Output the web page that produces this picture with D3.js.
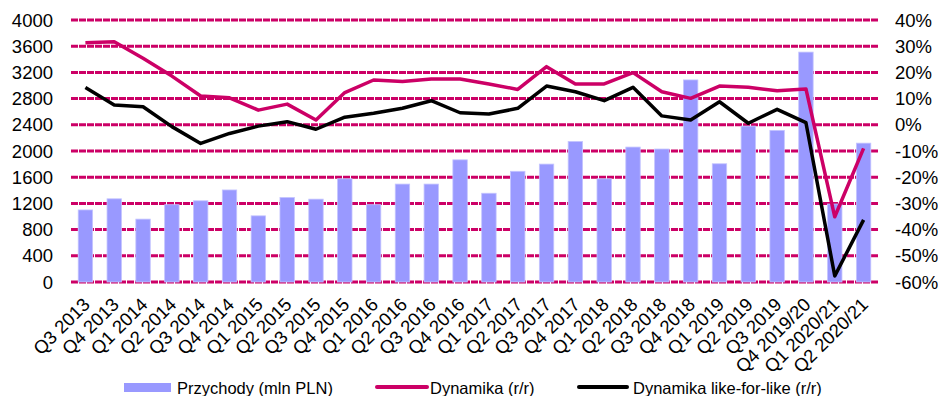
<!DOCTYPE html>
<html>
<head>
<meta charset="utf-8">
<script src="https://cdn.jsdelivr.net/npm/d3@7"></script>
<style>
  html, body { margin: 0; padding: 0; background: #fff; }
  svg { display: block; font-family: "Liberation Sans", Arial, sans-serif; }
</style>
</head>
<body>
<svg id="chart" width="938" height="396"></svg>
<script>
const categories = ["Q3 2013","Q4 2013","Q1 2014","Q2 2014","Q3 2014","Q4 2014","Q1 2015","Q2 2015","Q3 2015","Q4 2015","Q1 2016","Q2 2016","Q3 2016","Q4 2016","Q1 2017","Q2 2017","Q3 2017","Q4 2017","Q1 2018","Q2 2018","Q3 2018","Q4 2018","Q1 2019","Q2 2019","Q3 2019","Q4 2019/20","Q1 2020/21","Q2 2020/21"];
const revenue = [1100,1270,960,1180,1240,1405,1010,1290,1265,1575,1180,1495,1495,1865,1355,1690,1800,2145,1575,2060,2030,3085,1805,2380,2315,3510,1190,2120];
const dynamics = [31.3,31.7,25.4,18.6,11.0,10.3,5.6,7.9,1.8,12.3,17.1,16.5,17.5,17.5,15.6,13.5,22.2,15.6,15.6,19.9,12.6,10.1,14.8,14.3,13.0,13.7,-35.1,-9.0];
const lfl = [14.2,7.6,6.9,-0.7,-7.1,-3.3,-0.5,1.2,-1.7,2.9,4.4,6.3,9.2,4.6,4.1,6.3,14.8,12.6,9.2,14.3,3.4,1.8,8.8,0.6,5.9,0.8,-57.7,-36.3];
const leftTicks = [0,400,800,1200,1600,2000,2400,2800,3200,3600,4000];
const rightTicks = [-60,-50,-40,-30,-20,-10,0,10,20,30,40];
const legendLabels = ["Przychody (mln PLN)","Dynamika (r/r)","Dynamika like-for-like (r/r)"];

const PINK = "#CC0066", BAR = "#9999FF", BARSTROKE = "#C4C4FF";
const plotLeft = 71, plotRight = 878, plotTop = 20, plotBottom = 282;

const svg = d3.select("#chart");
const x = d3.scaleBand().domain(categories).range([plotLeft, plotRight]).paddingInner(0.5).paddingOuter(0.25);
const xc = d => x(d) + x.bandwidth() / 2;
const yL = d3.scaleLinear().domain([0, 4000]).range([plotBottom, plotTop]);
const yR = d3.scaleLinear().domain([-60, 40]).range([plotBottom, plotTop]);

// gridlines
svg.append("g").selectAll("line").data(leftTicks).join("line")
  .attr("x1", plotLeft).attr("x2", plotRight)
  .attr("y1", d => yL(d)).attr("y2", d => yL(d))
  .attr("stroke", PINK).attr("stroke-width", 3).attr("stroke-dasharray", "7,1");

// bars
svg.append("g").selectAll("rect").data(revenue).join("rect")
  .attr("x", (d, i) => x(categories[i]))
  .attr("width", x.bandwidth())
  .attr("y", d => yL(d))
  .attr("height", d => yL(0) - yL(d))
  .attr("fill", BAR).attr("stroke", BARSTROKE).attr("stroke-width", 0.8);

// lines
const line = d3.line().x((d, i) => xc(categories[i])).y(d => yR(d));
svg.append("path").datum(dynamics).attr("d", line)
  .attr("fill", "none").attr("stroke", PINK).attr("stroke-width", 3.5).attr("stroke-linejoin", "round");
svg.append("path").datum(lfl).attr("d", line)
  .attr("fill", "none").attr("stroke", "#000").attr("stroke-width", 3.5).attr("stroke-linejoin", "round");

// left axis labels
svg.append("g").selectAll("text").data(leftTicks).join("text")
  .attr("x", 53).attr("y", d => yL(d)).attr("dy", "0.36em")
  .attr("text-anchor", "end").attr("font-size", "18.5px").attr("fill", "#000")
  .text(d => d);

// right axis labels
svg.append("g").selectAll("text").data(rightTicks).join("text")
  .attr("x", 895).attr("y", d => yR(d)).attr("dy", "0.36em")
  .attr("text-anchor", "start").attr("font-size", "18.5px").attr("fill", "#000")
  .text(d => d + "%");

// x labels
svg.append("g").selectAll("text").data(categories).join("text")
  .attr("transform", d => `translate(${xc(d) + 1},${301}) rotate(-45)`)
  .attr("dy", "0.36em")
  .attr("text-anchor", "end").attr("font-size", "18.5px").attr("fill", "#000")
  .text(d => d);

// legend
const lg = svg.append("g").attr("font-size", "16.5px");
lg.append("rect").attr("x", 124).attr("y", 383).attr("width", 47).attr("height", 9).attr("fill", BAR);
lg.append("text").attr("x", 177).attr("y", 388).attr("dy", "0.36em").text(legendLabels[0]);
lg.append("line").attr("x1", 377).attr("x2", 427).attr("y1", 387).attr("y2", 387)
  .attr("stroke", PINK).attr("stroke-width", 4).attr("stroke-linecap", "round");
lg.append("text").attr("x", 430).attr("y", 388).attr("dy", "0.36em").text(legendLabels[1]);
lg.append("line").attr("x1", 579).attr("x2", 627).attr("y1", 387).attr("y2", 387)
  .attr("stroke", "#000").attr("stroke-width", 4).attr("stroke-linecap", "round");
lg.append("text").attr("x", 633).attr("y", 388).attr("dy", "0.36em").text(legendLabels[2]);
</script>
</body>
</html>
